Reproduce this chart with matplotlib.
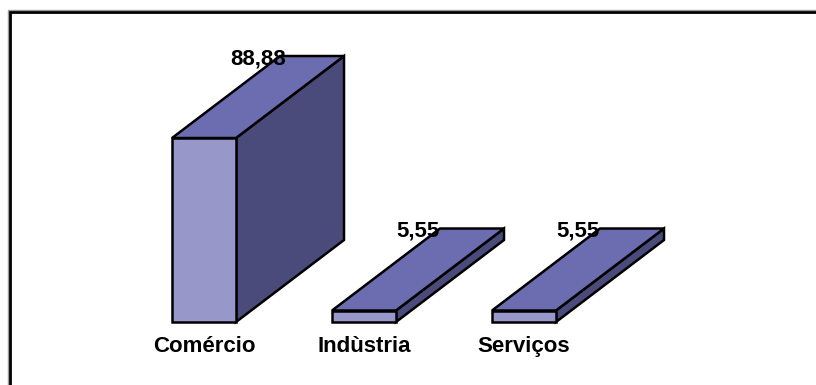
import matplotlib
matplotlib.use("Agg")
import matplotlib.pyplot as plt
from matplotlib.patches import Polygon, Rectangle
from matplotlib.transforms import IdentityTransform

categories = ["Comércio", "Indùstria", "Serviços"]
values = [88.88, 5.55, 5.55]
value_labels = ["88,88", "5,55", "5,55"]

FRONT = "#9797C9"
TOP = "#6C6CB1"
SIDE = "#4B4B7B"
EDGE = "black"

DPI = 100
fig = plt.figure(figsize=(8.16, 3.85), dpi=DPI)
fig.patch.set_facecolor("white")

# plot area: category centres 160 px apart, value axis 0..100
ax = fig.add_axes([124 / 816, 63 / 385, 480 / 816, 207 / 385])
ax.set_xlim(-0.5, 2.5)
ax.set_ylim(0, 100)
ax.axis("off")

bar_w = 0.4          # front-face width in category units
depth = (108, 82)    # 3D depth offset in pixels (right, up)
lw = 1.8
FS = 16

ident = IdentityTransform()


def to_px(x, y):
    return ax.transData.transform((x, y))


for i, (cat, v, lab) in enumerate(zip(categories, values, value_labels)):
    x0, x1 = i - bar_w / 2, i + bar_w / 2
    fl_b = to_px(x0, 0)
    fr_b = to_px(x1, 0)
    fl_t = to_px(x0, v)
    fr_t = to_px(x1, v)
    d = depth
    br_b = (fr_b[0] + d[0], fr_b[1] + d[1])
    br_t = (fr_t[0] + d[0], fr_t[1] + d[1])
    bl_t = (fl_t[0] + d[0], fl_t[1] + d[1])

    side = Polygon([fr_b, fr_t, br_t, br_b], closed=True, facecolor=SIDE,
                   edgecolor=EDGE, linewidth=lw, joinstyle="miter",
                   transform=ident, zorder=2 + i * 3)
    top = Polygon([fl_t, fr_t, br_t, bl_t], closed=True, facecolor=TOP,
                  edgecolor=EDGE, linewidth=lw, joinstyle="miter",
                  transform=ident, zorder=3 + i * 3)
    front = Polygon([fl_b, fr_b, fr_t, fl_t], closed=True, facecolor=FRONT,
                    edgecolor=EDGE, linewidth=lw, joinstyle="miter",
                    transform=ident, zorder=4 + i * 3)
    for p in (side, top, front):
        p.set_clip_on(False)
        ax.add_artist(p)

    # value label at the rear top edge
    ax.annotate(lab, xy=(i, v), xytext=(54, d[1] - 8),
                textcoords="offset pixels", ha="center", va="baseline",
                fontsize=FS, fontweight="bold", family="Liberation Sans",
                color="black", annotation_clip=False, zorder=50)
    # category label under the bar
    ax.annotate(cat, xy=(i, 0), xytext=(0, -30),
                textcoords="offset pixels", ha="center", va="baseline",
                fontsize=FS, fontweight="bold", family="Liberation Sans",
                color="black", annotation_clip=False, zorder=50)

# chart frame (runs off the right and bottom edges)
W, H = 816, 385
shadow = Rectangle((8 / W, -0.1), 1.2, (H - 10) / H + 0.1,
                   transform=fig.transFigure, fill=False,
                   edgecolor="#9a9a9a", linewidth=1.0, zorder=30)
frame = Rectangle((9.8 / W, -0.1), 1.2, (H - 12.2) / H + 0.1,
                  transform=fig.transFigure, fill=False,
                  edgecolor="black", linewidth=2.0, zorder=31)
fig.add_artist(shadow)
fig.add_artist(frame)

fig.savefig("out.png", dpi=DPI, facecolor="white")
